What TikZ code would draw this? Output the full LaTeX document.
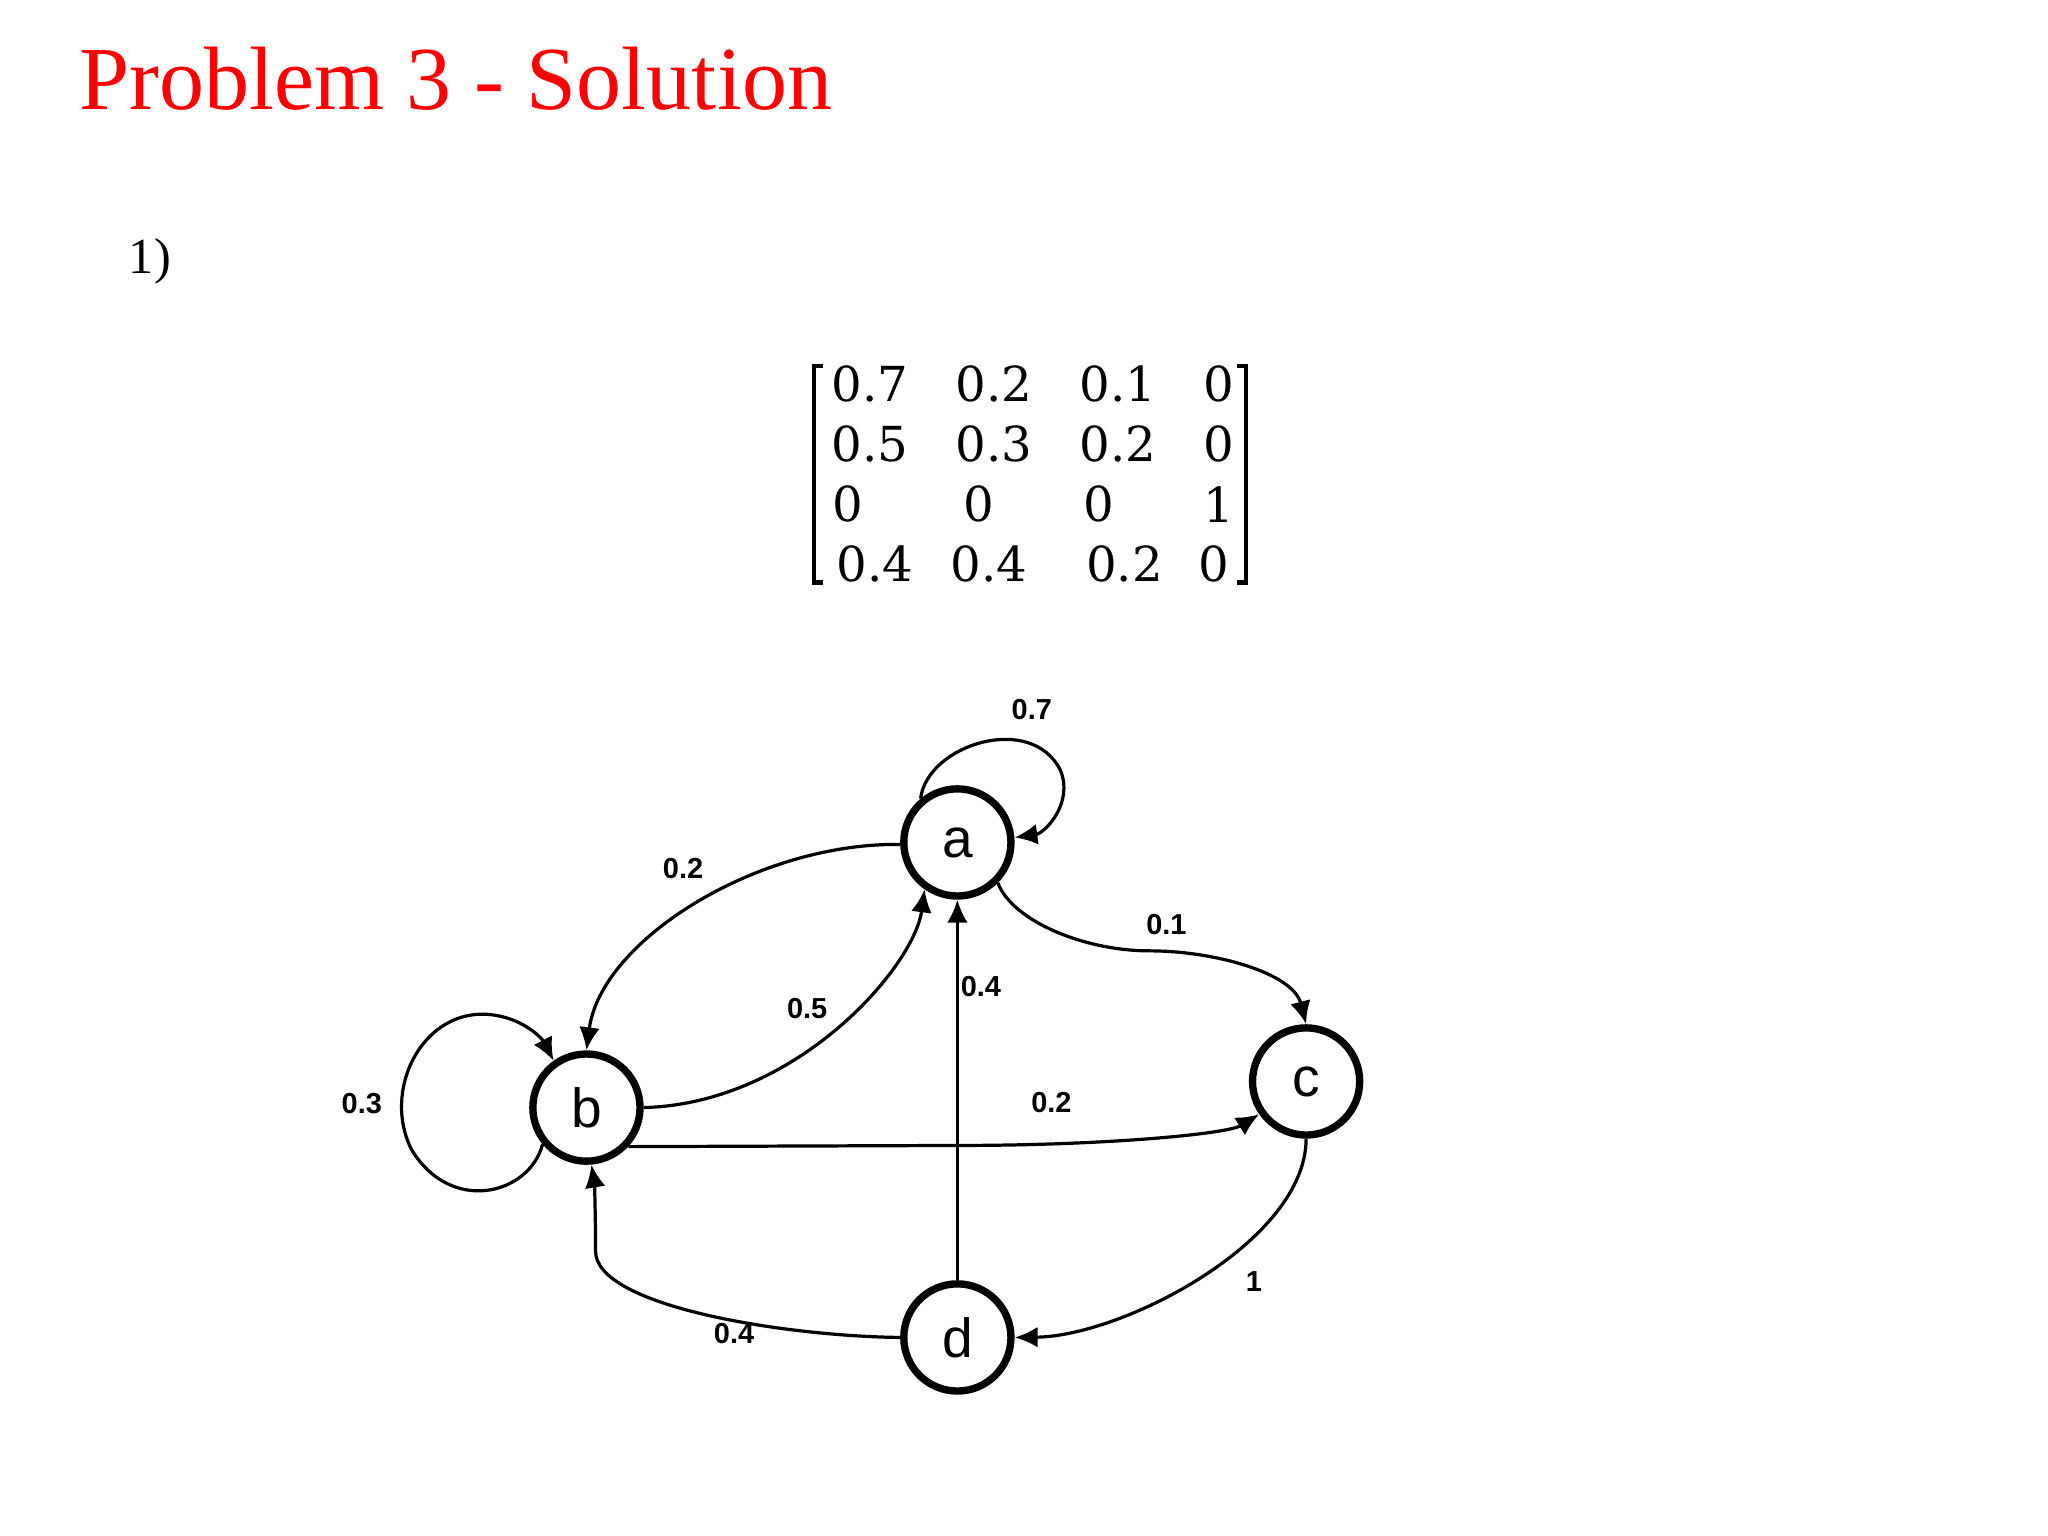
\documentclass[tikz,border=0pt]{standalone}
\usepackage{fontspec}
\setmainfont{Liberation Serif}
\newfontfamily\lab{Liberation Sans}
\newfontfamily\mat{DejaVu Serif}
\usetikzlibrary{arrows.meta}
\begin{document}
\begin{tikzpicture}[x=0.01cm,y=-0.01cm,
  st/.style={circle,draw,line width=1.6pt,minimum size=0.82cm,inner sep=0pt,font=\lab\fontsize{12}{12}\selectfont},
  ed/.style={line width=0.7pt,-{Latex[length=5pt,width=4.5pt]}},
  el/.style={font=\lab\bfseries\fontsize{6.3}{7}\selectfont},
  me/.style={anchor=west,font=\mat\fontsize{10.5}{12}\selectfont,inner sep=0pt}]
\useasboundingbox (0,0) rectangle (1568,1176);
\node[anchor=west,text=red,font=\fontsize{19.6}{22}\selectfont,inner sep=0pt] (title) at (60,60) {Problem 3 - Solution};
\node[anchor=west,font=\fontsize{11}{12}\selectfont,inner sep=0pt] (num) at (98,200) {1)};
% matrix
\draw[line width=0.9pt] (630,280) -- (623,280) -- (623,446) -- (630,446);
\draw[line width=0.9pt] (947,280) -- (954,280) -- (954,446) -- (947,446);
\node[me] at (636,294) {0.7}; \node[me] at (731,294) {0.2}; \node[me] at (826,294) {0.1}; \node[me] at (921,294) {0};
\node[me] at (636,340) {0.5}; \node[me] at (731,340) {0.3}; \node[me] at (826,340) {0.2}; \node[me] at (921,340) {0};
\node[me] at (637,386) {0};   \node[me] at (737,386) {0};   \node[me] at (829,386) {0};   \node[me] at (921,386) {1};
\node[me] at (640,432) {0.4}; \node[me] at (727,432) {0.4}; \node[me] at (831,432) {0.2}; \node[me] at (917,432) {0};
% nodes
\node[st] (a) at (733,645) {a};
\node[st] (b) at (449,848) {b};
\node[st] (c) at (1000,828) {c};
\node[st] (d) at (733,1024) {d};
% edges
\draw[ed] (a.130) .. controls (710,570) and (790,545) .. (812,590) .. controls (822,615) and (800,638) .. (a.5);
\node[el] at (790,543) {0.7};
\draw[ed] (a.182) .. controls (580,645) and (460,720) .. (b.90);
\node[el] at (523,665) {0.2};
\draw[ed] (b.0) .. controls (610,845) and (700,740) .. (a.235);
\node[el] at (618,772) {0.5};
\draw[ed] (a.315) .. controls (775,705) and (830,728) .. (880,728) .. controls (930,728) and (990,745) .. (c.90);
\node[el] at (893,708) {0.1};
\draw[ed] (d) -- (a);
\node[el] at (751,755) {0.4};
\draw[ed] (b.317) -- (733,877) .. controls (850,877) and (940,868) .. (c.215);
\node[el] at (805,844) {0.2};
\draw[ed] (b.220) .. controls (405,915) and (345,930) .. (315,880) .. controls (290,830) and (330,760) .. (390,780) .. controls (405,785) and (415,795) .. (b.125);
\node[el] at (277,845) {0.3};
\draw[ed] (c.270) .. controls (1000,950) and (860,1023) .. (d.0);
\node[el] at (960,981) {1};
\draw[ed] (d.180) .. controls (600,1023) and (456,1000) .. (456,958) .. controls (456,930) and (455,905) .. (b.275);
\node[el] at (562,1021) {0.4};
\end{tikzpicture}
\end{document}
